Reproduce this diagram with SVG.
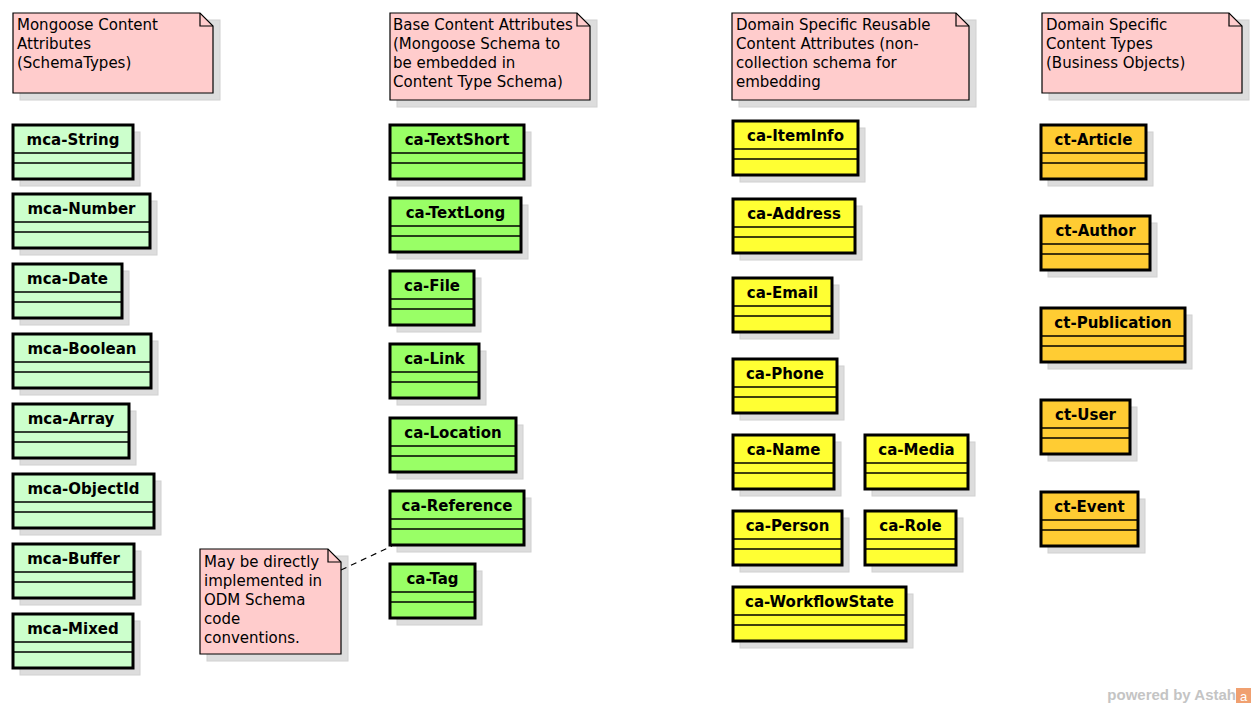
<svg xmlns="http://www.w3.org/2000/svg" width="1256" height="708" viewBox="0 0 1256 708">
<style>
.note{fill:#ffcccc;stroke:#000;stroke-width:1.2}
.fold{fill:none;stroke:#000;stroke-width:1.2}
.sh{fill:#dddddd;stroke:#d0d0d0;stroke-width:1}
.nt{font-family:"DejaVu Sans",sans-serif;font-size:15px;fill:#000}
.box{stroke:#000;stroke-width:3}
.div{stroke:#000;stroke-width:1.3}
.cn{font-family:"DejaVu Sans",sans-serif;font-size:15px;font-weight:bold;fill:#000;text-anchor:middle}
.g1{fill:#ccffcc}.g2{fill:#99ff66}.y{fill:#ffff33}.o{fill:#ffcc33}
</style>
<rect width="1256" height="708" fill="#fff"/>
<g id="note-mongoose">
<rect class="sh" x="20" y="20" width="200" height="80"/>
<path class="note" d="M13,13 H200 L213,26 V93 H13 Z"/><path class="fold" d="M200,13 V26 H213"/>
<text class="nt" x="17" y="30">Mongoose Content</text><text class="nt" x="17" y="49">Attributes</text><text class="nt" x="17" y="68">(SchemaTypes)</text>
</g>
<g id="note-base">
<rect class="sh" x="397" y="20" width="200" height="87"/>
<path class="note" d="M390,13 H577 L590,26 V100 H390 Z"/><path class="fold" d="M577,13 V26 H590"/>
<text class="nt" x="393" y="30">Base Content Attributes</text><text class="nt" x="393" y="49">(Mongoose Schema to</text><text class="nt" x="393" y="68">be embedded in</text><text class="nt" x="393" y="87">Content Type Schema)</text>
</g>
<g id="note-domain">
<rect class="sh" x="739" y="20" width="237" height="87"/>
<path class="note" d="M732,13 H956 L969,26 V100 H732 Z"/><path class="fold" d="M956,13 V26 H969"/>
<text class="nt" x="736" y="30">Domain Specific Reusable</text><text class="nt" x="736" y="49">Content Attributes (non-</text><text class="nt" x="736" y="68">collection schema for</text><text class="nt" x="736" y="87">embedding</text>
</g>
<g id="note-types">
<rect class="sh" x="1049" y="20" width="200" height="80"/>
<path class="note" d="M1042,13 H1229 L1242,26 V93 H1042 Z"/><path class="fold" d="M1229,13 V26 H1242"/>
<text class="nt" x="1046" y="30">Domain Specific</text><text class="nt" x="1046" y="49">Content Types</text><text class="nt" x="1046" y="68">(Business Objects)</text>
</g>
<g id="note-odm">
<rect class="sh" x="207" y="556" width="141" height="105"/>
<path class="note" d="M200,549 H328 L341,562 V654 H200 Z"/><path class="fold" d="M328,549 V562 H341"/>
<text class="nt" x="204" y="567">May be directly</text><text class="nt" x="204" y="586">implemented in</text><text class="nt" x="204" y="605">ODM Schema</text><text class="nt" x="204" y="624">code</text><text class="nt" x="204" y="643">conventions.</text>
</g>
<g id="connectors">
<line x1="341" y1="570" x2="392" y2="546" stroke="#000" stroke-width="1.2" stroke-dasharray="6,5"/>
</g>
<g id="mca-String"><rect class="sh" x="20" y="132" width="120" height="54"/><rect class="box g1" x="13" y="125" width="120" height="54"/><line class="div" x1="13" y1="153" x2="133" y2="153"/><line class="div" x1="13" y1="163" x2="133" y2="163"/><text class="cn" x="73" y="145">mca-String</text></g>
<g id="mca-Number"><rect class="sh" x="20" y="201" width="137" height="54"/><rect class="box g1" x="13" y="194" width="137" height="54"/><line class="div" x1="13" y1="222" x2="150" y2="222"/><line class="div" x1="13" y1="232" x2="150" y2="232"/><text class="cn" x="81.5" y="214">mca-Number</text></g>
<g id="mca-Date"><rect class="sh" x="20" y="271" width="109" height="54"/><rect class="box g1" x="13" y="264" width="109" height="54"/><line class="div" x1="13" y1="292" x2="122" y2="292"/><line class="div" x1="13" y1="302" x2="122" y2="302"/><text class="cn" x="67.5" y="284">mca-Date</text></g>
<g id="mca-Boolean"><rect class="sh" x="20" y="341" width="138" height="54"/><rect class="box g1" x="13" y="334" width="138" height="54"/><line class="div" x1="13" y1="362" x2="151" y2="362"/><line class="div" x1="13" y1="372" x2="151" y2="372"/><text class="cn" x="82" y="354">mca-Boolean</text></g>
<g id="mca-Array"><rect class="sh" x="20" y="411" width="116" height="54"/><rect class="box g1" x="13" y="404" width="116" height="54"/><line class="div" x1="13" y1="432" x2="129" y2="432"/><line class="div" x1="13" y1="442" x2="129" y2="442"/><text class="cn" x="71" y="424">mca-Array</text></g>
<g id="mca-ObjectId"><rect class="sh" x="20" y="481" width="141" height="54"/><rect class="box g1" x="13" y="474" width="141" height="54"/><line class="div" x1="13" y1="502" x2="154" y2="502"/><line class="div" x1="13" y1="512" x2="154" y2="512"/><text class="cn" x="83.5" y="494">mca-ObjectId</text></g>
<g id="mca-Buffer"><rect class="sh" x="20" y="551" width="121" height="54"/><rect class="box g1" x="13" y="544" width="121" height="54"/><line class="div" x1="13" y1="572" x2="134" y2="572"/><line class="div" x1="13" y1="582" x2="134" y2="582"/><text class="cn" x="73.5" y="564">mca-Buffer</text></g>
<g id="mca-Mixed"><rect class="sh" x="20" y="621" width="120" height="54"/><rect class="box g1" x="13" y="614" width="120" height="54"/><line class="div" x1="13" y1="642" x2="133" y2="642"/><line class="div" x1="13" y1="652" x2="133" y2="652"/><text class="cn" x="73" y="634">mca-Mixed</text></g>

<g id="ca-TextShort"><rect class="sh" x="397" y="132" width="134" height="54"/><rect class="box g2" x="390" y="125" width="134" height="54"/><line class="div" x1="390" y1="153" x2="524" y2="153"/><line class="div" x1="390" y1="163" x2="524" y2="163"/><text class="cn" x="457" y="145">ca-TextShort</text></g>
<g id="ca-TextLong"><rect class="sh" x="397" y="205" width="131" height="54"/><rect class="box g2" x="390" y="198" width="131" height="54"/><line class="div" x1="390" y1="226" x2="521" y2="226"/><line class="div" x1="390" y1="236" x2="521" y2="236"/><text class="cn" x="455.5" y="218">ca-TextLong</text></g>
<g id="ca-File"><rect class="sh" x="397" y="278" width="84" height="54"/><rect class="box g2" x="390" y="271" width="84" height="54"/><line class="div" x1="390" y1="299" x2="474" y2="299"/><line class="div" x1="390" y1="309" x2="474" y2="309"/><text class="cn" x="432" y="291">ca-File</text></g>
<g id="ca-Link"><rect class="sh" x="397" y="351" width="89" height="54"/><rect class="box g2" x="390" y="344" width="89" height="54"/><line class="div" x1="390" y1="372" x2="479" y2="372"/><line class="div" x1="390" y1="382" x2="479" y2="382"/><text class="cn" x="434.5" y="364">ca-Link</text></g>
<g id="ca-Location"><rect class="sh" x="397" y="425" width="126" height="54"/><rect class="box g2" x="390" y="418" width="126" height="54"/><line class="div" x1="390" y1="446" x2="516" y2="446"/><line class="div" x1="390" y1="456" x2="516" y2="456"/><text class="cn" x="453" y="438">ca-Location</text></g>
<g id="ca-Reference"><rect class="sh" x="397" y="498" width="134" height="54"/><rect class="box g2" x="390" y="491" width="134" height="54"/><line class="div" x1="390" y1="519" x2="524" y2="519"/><line class="div" x1="390" y1="529" x2="524" y2="529"/><text class="cn" x="457" y="511">ca-Reference</text></g>
<g id="ca-Tag"><rect class="sh" x="397" y="571" width="85" height="54"/><rect class="box g2" x="390" y="564" width="85" height="54"/><line class="div" x1="390" y1="592" x2="475" y2="592"/><line class="div" x1="390" y1="602" x2="475" y2="602"/><text class="cn" x="432.5" y="584">ca-Tag</text></g>

<g id="ca-ItemInfo"><rect class="sh" x="740" y="128" width="125" height="54"/><rect class="box y" x="733" y="121" width="125" height="54"/><line class="div" x1="733" y1="149" x2="858" y2="149"/><line class="div" x1="733" y1="159" x2="858" y2="159"/><text class="cn" x="795.5" y="141">ca-ItemInfo</text></g>
<g id="ca-Address"><rect class="sh" x="740" y="206" width="122" height="54"/><rect class="box y" x="733" y="199" width="122" height="54"/><line class="div" x1="733" y1="227" x2="855" y2="227"/><line class="div" x1="733" y1="237" x2="855" y2="237"/><text class="cn" x="794" y="219">ca-Address</text></g>
<g id="ca-Email"><rect class="sh" x="740" y="285" width="99" height="54"/><rect class="box y" x="733" y="278" width="99" height="54"/><line class="div" x1="733" y1="306" x2="832" y2="306"/><line class="div" x1="733" y1="316" x2="832" y2="316"/><text class="cn" x="782.5" y="298">ca-Email</text></g>
<g id="ca-Phone"><rect class="sh" x="740" y="366" width="104" height="54"/><rect class="box y" x="733" y="359" width="104" height="54"/><line class="div" x1="733" y1="387" x2="837" y2="387"/><line class="div" x1="733" y1="397" x2="837" y2="397"/><text class="cn" x="785" y="379">ca-Phone</text></g>
<g id="ca-Name"><rect class="sh" x="740" y="442" width="101" height="54"/><rect class="box y" x="733" y="435" width="101" height="54"/><line class="div" x1="733" y1="463" x2="834" y2="463"/><line class="div" x1="733" y1="473" x2="834" y2="473"/><text class="cn" x="783.5" y="455">ca-Name</text></g>
<g id="ca-Media"><rect class="sh" x="872" y="442" width="103" height="54"/><rect class="box y" x="865" y="435" width="103" height="54"/><line class="div" x1="865" y1="463" x2="968" y2="463"/><line class="div" x1="865" y1="473" x2="968" y2="473"/><text class="cn" x="916.5" y="455">ca-Media</text></g>
<g id="ca-Person"><rect class="sh" x="740" y="518" width="109" height="54"/><rect class="box y" x="733" y="511" width="109" height="54"/><line class="div" x1="733" y1="539" x2="842" y2="539"/><line class="div" x1="733" y1="549" x2="842" y2="549"/><text class="cn" x="787.5" y="531">ca-Person</text></g>
<g id="ca-Role"><rect class="sh" x="872" y="518" width="91" height="54"/><rect class="box y" x="865" y="511" width="91" height="54"/><line class="div" x1="865" y1="539" x2="956" y2="539"/><line class="div" x1="865" y1="549" x2="956" y2="549"/><text class="cn" x="910.5" y="531">ca-Role</text></g>
<g id="ca-WorkflowState"><rect class="sh" x="740" y="594" width="173" height="54"/><rect class="box y" x="733" y="587" width="173" height="54"/><line class="div" x1="733" y1="615" x2="906" y2="615"/><line class="div" x1="733" y1="625" x2="906" y2="625"/><text class="cn" x="819.5" y="607">ca-WorkflowState</text></g>

<g id="ct-Article"><rect class="sh" x="1048" y="132" width="105" height="54"/><rect class="box o" x="1041" y="125" width="105" height="54"/><line class="div" x1="1041" y1="153" x2="1146" y2="153"/><line class="div" x1="1041" y1="163" x2="1146" y2="163"/><text class="cn" x="1093.5" y="145">ct-Article</text></g>
<g id="ct-Author"><rect class="sh" x="1048" y="223" width="109" height="54"/><rect class="box o" x="1041" y="216" width="109" height="54"/><line class="div" x1="1041" y1="244" x2="1150" y2="244"/><line class="div" x1="1041" y1="254" x2="1150" y2="254"/><text class="cn" x="1095.5" y="236">ct-Author</text></g>
<g id="ct-Publication"><rect class="sh" x="1048" y="315" width="144" height="54"/><rect class="box o" x="1041" y="308" width="144" height="54"/><line class="div" x1="1041" y1="336" x2="1185" y2="336"/><line class="div" x1="1041" y1="346" x2="1185" y2="346"/><text class="cn" x="1113" y="328">ct-Publication</text></g>
<g id="ct-User"><rect class="sh" x="1048" y="407" width="89" height="54"/><rect class="box o" x="1041" y="400" width="89" height="54"/><line class="div" x1="1041" y1="428" x2="1130" y2="428"/><line class="div" x1="1041" y1="438" x2="1130" y2="438"/><text class="cn" x="1085.5" y="420">ct-User</text></g>
<g id="ct-Event"><rect class="sh" x="1048" y="499" width="97" height="54"/><rect class="box o" x="1041" y="492" width="97" height="54"/><line class="div" x1="1041" y1="520" x2="1138" y2="520"/><line class="div" x1="1041" y1="530" x2="1138" y2="530"/><text class="cn" x="1089.5" y="512">ct-Event</text></g>

<g id="watermark">
<text x="1236" y="700" font-family="Liberation Sans, sans-serif" font-size="15" font-weight="bold" fill="#c4c4c4" text-anchor="end">powered by Astah</text>
<rect x="1236" y="688" width="15" height="15" fill="#f0a070"/>
<text x="1243.5" y="701" font-family="Liberation Sans, sans-serif" font-size="13" fill="#fff" text-anchor="middle">a</text>
</g>
</svg>
